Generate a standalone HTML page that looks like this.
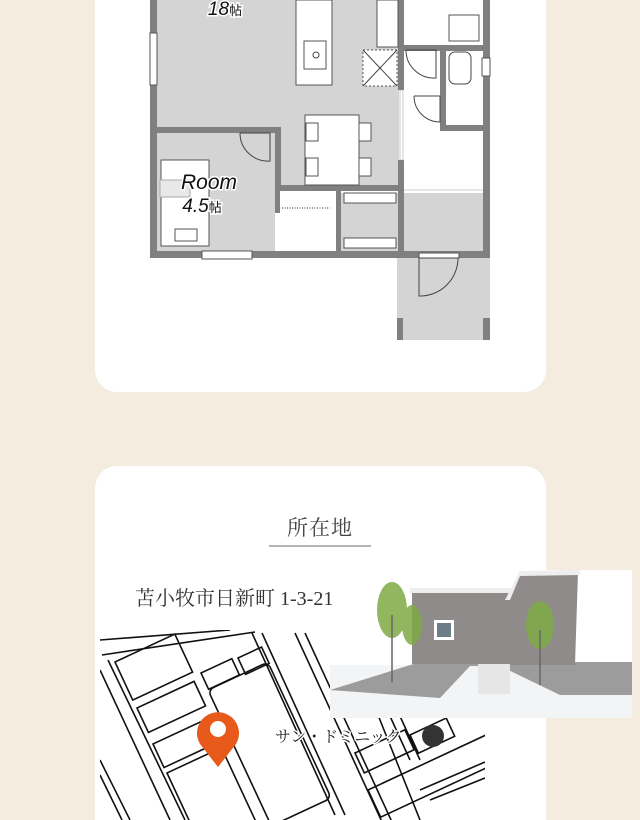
<!DOCTYPE html>
<html><head><meta charset="utf-8"><style>
html,body{margin:0;padding:0;background:#f3ecdf;width:640px;height:820px;overflow:hidden;position:relative;font-family:"Liberation Serif","Noto Serif CJK SC",serif}
.card{position:absolute;background:#fff;border-radius:22px}
</style></head><body>
<div class="card" style="left:95px;top:0px;width:451px;height:392px;border-radius:0 0 22px 22px"></div>
<div class="card" style="left:95px;top:466px;width:451px;height:354px;border-radius:22px 22px 0 0"></div>
<svg width="640" height="820" style="position:absolute;left:0;top:0">
<rect x="157" y="0" width="242" height="128" fill="#d4d4d4"/>
<rect x="280" y="128" width="119" height="62" fill="#d4d4d4"/>
<rect x="157" y="133" width="118" height="118" fill="#d4d4d4"/>
<rect x="340" y="193" width="143" height="58" fill="#d4d4d4"/>
<rect x="397" y="258" width="93" height="82" fill="#d4d4d4"/>
<line x1="404" y1="190" x2="483" y2="190" stroke="#ccc" stroke-width="1"/>
<g fill="#808080">
<rect x="150" y="0" width="7" height="258"/>
<rect x="150" y="251" width="340" height="7"/>
<rect x="483" y="0" width="7" height="258"/>
<rect x="157" y="127" width="118" height="6"/>
<rect x="275" y="127" width="6" height="86"/>
<rect x="398" y="0" width="6" height="90"/>
<rect x="398" y="160" width="6" height="98"/>
<rect x="280" y="185" width="123" height="6"/>
<rect x="336" y="191" width="5" height="60"/>
<rect x="440" y="45" width="6" height="80"/>
<rect x="440" y="125" width="43" height="6"/>
<rect x="404" y="45" width="79" height="6"/>
<rect x="397" y="318" width="6" height="22"/>
<rect x="483" y="318" width="7" height="22"/>
</g>
<g fill="#fff" stroke="#555" stroke-width="1">
<rect x="150" y="33" width="7" height="52"/>
<rect x="202" y="251" width="50" height="8"/>
<rect x="482" y="58" width="8" height="18"/>
<rect x="419" y="253" width="40" height="5"/>
<rect x="296" y="0" width="36" height="85"/>
<rect x="304" y="41" width="22" height="28"/>
<rect x="377" y="0" width="21" height="47"/>
<rect x="449" y="15" width="30" height="26"/>
<rect x="305" y="115" width="54" height="70"/>
<rect x="306" y="123" width="12" height="18"/><rect x="359" y="123" width="12" height="18"/>
<rect x="306" y="158" width="12" height="18"/><rect x="359" y="158" width="12" height="18"/>
<rect x="161" y="160" width="48" height="86"/>
<rect x="344" y="193" width="52" height="10"/>
<rect x="344" y="238" width="52" height="10"/>
<rect x="363" y="50" width="34" height="36" stroke-dasharray="2 2"/>
</g>
<g fill="none" stroke="#444" stroke-width="1">
<path d="M240 133 L270 133 L270 161 A28 28 0 0 1 240 133"/>
<path d="M406 50 L436 50 L436 78 A28 28 0 0 1 406 50"/>
<path d="M414 96 L440 96 L440 122 A26 26 0 0 1 414 96"/>
<path d="M419 258 L458 258 A38 38 0 0 1 419 296 Z"/>
<line x1="363" y1="50" x2="397" y2="86"/><line x1="397" y1="50" x2="363" y2="86"/>
<circle cx="316" cy="55" r="3"/>
<rect x="449" y="52" width="22" height="32" rx="6" fill="#fff"/>
</g>
<rect x="400" y="90" width="3" height="70" fill="#fff" stroke="#999" stroke-width="0.5"/>
<rect x="280" y="191" width="56" height="60" fill="#fff"/>
<line x1="282" y1="208" x2="330" y2="208" stroke="#333" stroke-dasharray="1 1.5"/>
<rect x="160" y="180" width="30" height="17" fill="#e8e8e8" stroke="#aaa"/>
<rect x="175" y="229" width="22" height="12" fill="#fff" stroke="#555"/>
<g font-family="Liberation Sans, sans-serif" font-style="italic" fill="#111" stroke="#fff" stroke-width="3" paint-order="stroke">
<text x="209" y="189" font-size="21" text-anchor="middle">Room</text>
<text x="202" y="212" font-size="19" text-anchor="middle">4.5<tspan font-size="13" font-style="normal" font-family="Noto Sans CJK JP">帖</tspan></text>
<text x="225" y="15" font-size="19" text-anchor="middle">18<tspan font-size="13" font-style="normal" font-family="Noto Sans CJK JP">帖</tspan></text>
</g>
<text x="320" y="535" font-size="21" text-anchor="middle" fill="#444" letter-spacing="1" font-family="Noto Serif CJK SC, serif">所在地</text>
<line x1="269" y1="546" x2="371" y2="546" stroke="#888" stroke-width="1.2"/>
<!-- map -->
<clipPath id="mc"><rect x="100" y="630" width="385" height="190"/></clipPath>
<g clip-path="url(#mc)" fill="none" stroke="#111" stroke-width="1.6">
<g transform="translate(115,662) rotate(-25)"><rect width="66" height="42"/></g>
<g transform="translate(201,673) rotate(-25)"><rect width="34" height="18"/></g>
<g transform="translate(238,658) rotate(-25)"><rect width="26" height="18"/></g>
<g transform="translate(208,690) rotate(-25)"><rect width="66" height="150" rx="6"/></g>
<g transform="translate(137,708) rotate(-25)"><rect width="63" height="27"/></g>
<g transform="translate(153,744) rotate(-25)"><rect width="55" height="26"/></g>
<g transform="translate(167,773) rotate(-25)"><rect width="60" height="90"/></g>
<g transform="translate(355,753) rotate(-25)"><rect width="55" height="22"/></g>
<g transform="translate(368,790) rotate(-25)"><rect width="130" height="30"/></g>
<g transform="translate(410,735) rotate(-25)"><rect width="40" height="20"/></g>
<path d="M102 655 L255 632"/><path d="M100 640 L230 630"/>
<path d="M252 633 L335 815"/><path d="M262 633 L345 815"/>
<path d="M295 633 L382 822"/><path d="M305 633 L392 822"/>
<path d="M352 633 L410 760"/><path d="M362 633 L420 760"/>
<path d="M100 670 L170 820"/><path d="M108 660 L185 820"/>
<path d="M100 760 L130 820"/><path d="M100 775 L122 820"/>
<path d="M390 700 L485 660"/><path d="M400 712 L485 676"/>
<path d="M420 790 L485 762"/><path d="M430 800 L485 778"/>
<path d="M372 700 L420 820"/>
</g>
<!-- photo -->
<rect x="330" y="570" width="302" height="148" fill="#fff"/>
<rect x="330" y="665" width="302" height="53" fill="#f2f4f5"/>
<polygon points="330,690 420,662 632,662 632,695 560,695 500,666 470,666 440,698" fill="#9c9c9c"/>
<rect x="412" y="592" width="100" height="72" fill="#8f8b8a"/>
<rect x="410" y="588" width="102" height="5" fill="#eee"/>
<polygon points="505,600 520,573 578,572 575,665 505,665" fill="#8f8b8a"/>
<polygon points="505,600 520,571 580,570 580,575 520,576 510,600" fill="#eee"/>
<rect x="434" y="620" width="20" height="20" fill="#fff"/><rect x="437" y="623" width="14" height="14" fill="#6d7d86"/>
<rect x="478" y="664" width="32" height="30" fill="#e6e6e6"/>
<g fill="#7faa45" opacity="0.85">
<ellipse cx="392" cy="610" rx="15" ry="28"/><ellipse cx="412" cy="625" rx="10" ry="20"/>
<ellipse cx="540" cy="625" rx="14" ry="24"/>
</g>
<g stroke="#666" stroke-width="1.5"><line x1="392" y1="615" x2="392" y2="682"/><line x1="540" y1="630" x2="540" y2="685"/></g>
<text x="135" y="605" font-size="20" fill="#333" font-family="Liberation Serif, Noto Serif CJK SC, serif">苫小牧市日新町 1-3-21</text>
<path d="M218 767 L200 744 A21 21 0 1 1 236 744 Z" fill="#e85a1b"/>
<circle cx="218" cy="729" r="8" fill="#fff"/>
<text x="275" y="742" font-size="16" fill="#222" stroke="#fff" stroke-width="3" paint-order="stroke" font-family="Noto Serif CJK JP, serif">サン・ドミニック</text>
<circle cx="433" cy="736" r="11" fill="#333"/>
</svg>
</body></html>
